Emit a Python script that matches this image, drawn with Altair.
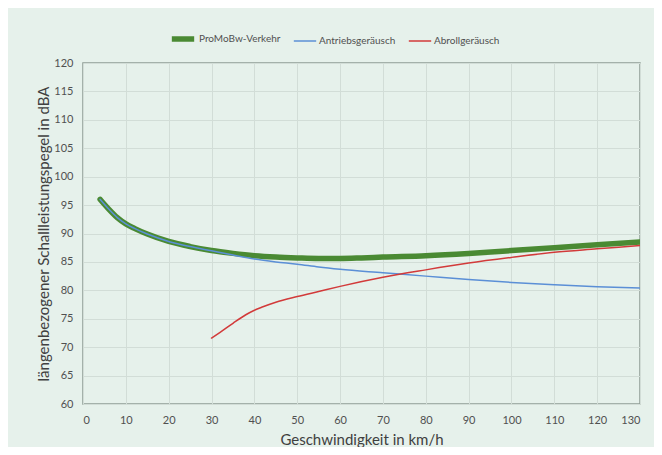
import altair as alt
import pandas as pd

series_names = ["ProMoBw-Verkehr", "Antriebsgeräusch", "Abrollgeräusch"]
series_colors = ["#4a8a33", "#5b8fd6", "#d23a3a"]
series_widths = [5.5, 1.5, 1.5]

x_total = [4, 6, 8, 10, 12, 15, 20, 25, 30, 35, 40, 45, 50, 55, 60, 65, 70, 80, 90, 100, 110, 120, 130]
y_total = [96.0, 94.3, 92.8, 91.7, 90.9, 89.9, 88.6, 87.7, 87.0, 86.5, 86.1, 85.85, 85.7, 85.6, 85.6, 85.7, 85.85, 86.1, 86.5, 87.0, 87.5, 88.0, 88.5]

x_drive = [4, 6, 8, 10, 12, 15, 20, 25, 30, 35, 40, 45, 50, 55, 60, 70, 80, 90, 100, 110, 120, 130]
y_drive = [96.0, 94.3, 92.8, 91.7, 90.9, 89.9, 88.6, 87.7, 86.95, 86.2, 85.5, 85.0, 84.6, 84.1, 83.7, 83.1, 82.5, 81.9, 81.4, 81.0, 80.65, 80.4]

x_roll = [30, 32, 35, 38, 40, 42, 45, 50, 55, 60, 70, 80, 90, 100, 110, 120, 130]
y_roll = [71.6, 72.6, 74.2, 75.7, 76.5, 77.1, 77.9, 78.9, 79.8, 80.7, 82.3, 83.6, 84.8, 85.8, 86.7, 87.3, 87.9]

rows = []
for name, xs, ys in [(series_names[0], x_total, y_total),
                     (series_names[1], x_drive, y_drive),
                     (series_names[2], x_roll, y_roll)]:
    for i, (a, b) in enumerate(zip(xs, ys)):
        rows.append({"series": name, "v": a, "L": b, "i": i})
df = pd.DataFrame(rows)

font = "Lato"
text_col = "#505050"

x_enc = alt.X("v:Q", scale=alt.Scale(domain=[0, 130], nice=False),
              axis=alt.Axis(values=list(range(0, 131, 10)), title="Geschwindigkeit in km/h",
                            labelFontSize=11, titleFontSize=15, labelPadding=10, titlePadding=7,
                            ticks=False, domain=False, gridColor="#d2ddd7", labelColor=text_col,
                            titleColor="#404040", labelFont=font, titleFont=font, titleFontWeight="normal"))
y_enc = alt.Y("L:Q", scale=alt.Scale(domain=[60, 120], nice=False),
              axis=alt.Axis(values=list(range(60, 121, 5)), title="längenbezogener Schallleistungspegel in dBA",
                            labelFontSize=11, titleFontSize=15, labelPadding=10, titlePadding=2,
                            ticks=False, domain=False, gridColor="#d2ddd7", labelColor=text_col,
                            titleColor="#404040", labelFont=font, titleFont=font, titleFontWeight="normal"))

legend = alt.Legend(orient="none", legendX=86, legendY=-38, direction="horizontal", title=None,
                    symbolType="stroke", symbolSize=500, labelFontSize=10, labelFont=font,
                    labelColor=text_col, columnPadding=9, labelOffset=2)

color_enc = alt.Color("series:N", scale=alt.Scale(domain=series_names, range=series_colors), legend=legend)
sw_enc = alt.StrokeWidth("series:N", scale=alt.Scale(type="ordinal", domain=series_names, range=series_widths), legend=legend)

layers = []
for name in series_names:
    layers.append(
        alt.Chart(df).transform_filter(alt.datum.series == name)
        .mark_line(interpolate="monotone", strokeCap="round", clip=True)
        .encode(x=x_enc, y=y_enc, color=color_enc, strokeWidth=sw_enc, order="i:Q")
    )

chart = alt.layer(*layers).properties(
    width=557, height=341,
    background="#e6f1eb",
    autosize=alt.AutoSizeParams(type="none"),
    padding={"left": 75, "top": 55, "right": 14, "bottom": 43},
).configure_view(stroke="#8f9c95", strokeWidth=1.5, fill="#e6f1eb")

chart.save("out.html", embed_options={"renderer": "svg", "actions": False})
